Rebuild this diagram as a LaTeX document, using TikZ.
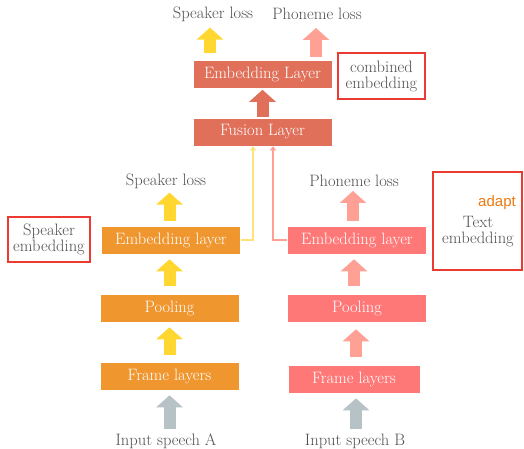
\documentclass[tikz,border=0pt]{standalone}
\usepackage{fontspec}
\newfontfamily\labelsans{Liberation Sans}
\usetikzlibrary{arrows.meta}
\definecolor{orangebox}{HTML}{EF962F}
\definecolor{pinkbox}{HTML}{FF7878}
\definecolor{fusered}{HTML}{E0705A}
\definecolor{yel}{HTML}{FFD730}
\definecolor{salmon}{HTML}{FFA095}
\definecolor{slate}{HTML}{B6C2C6}
\definecolor{txt}{HTML}{505050}
\definecolor{note}{HTML}{EA3A32}
\definecolor{adaptc}{HTML}{F07A12}
\definecolor{lightyel}{HTML}{FFE27A}
\begin{document}
\begin{tikzpicture}[x=1pt,y=-1pt,
  every node/.style={font=\fontsize{16.5}{19}\selectfont, text=txt},
  layer/.style={fill=#1, draw=white, line width=0.6pt, minimum width=139pt, minimum height=28pt,
    inner sep=0pt, text=white},
  lbl/.style={inner sep=0pt},
  notebox/.style={draw=note, line width=1.4pt, fill=white, inner sep=0pt, align=center},
  fat/.style={draw=#1, line width=12pt, -{Triangle[width=26pt,length=12pt,fill=#1]}},
  link/.style={draw=#1, line width=2.8pt, -{Triangle[width=6pt,length=4pt,fill=#1]}}]
\useasboundingbox (0,0) rectangle (524,449);

% top stage
\node[layer=fusered] (embT) at (262.5,74.5) {Embedding Layer};
\node[layer=fusered] (fusion) at (262.5,132) {Fusion Layer};
\node[lbl] (lossT1) at (213,14) {Speaker loss};
\node[lbl] (lossT2) at (317,14) {Phoneme loss};
\node[notebox, minimum width=87pt, minimum height=46pt] (comb) at (381.5,76) {combined\\[-3pt]embedding};

% speaker branch
\node[layer=orangebox] (embA) at (171,240) {Embedding layer};
\node[layer=orangebox] (poolA) at (169.5,308) {Pooling};
\node[layer=orangebox] (frameA) at (169.5,376) {Frame layers};
\node[lbl] (lossA) at (166,181) {Speaker loss};
\node[lbl] (inA) at (166,441) {Input speech A};
\node[notebox, minimum width=82pt, minimum height=45pt] (spk) at (49,239.5) {Speaker\\[-3pt]embedding};

% phoneme branch
\node[layer=pinkbox] (embB) at (357,240) {Embedding layer};
\node[layer=pinkbox] (poolB) at (357,308) {Pooling};
\node[layer=pinkbox, minimum width=132pt] (frameB) at (354,379) {Frame layers};
\node[lbl] (lossB) at (354,181) {Phoneme loss};
\node[lbl] (inB) at (355,441) {Input speech B};
\node[notebox, minimum width=89pt, minimum height=98pt] (txtemb) at (477.5,221) {};
\node[lbl, font=\labelsans\fontsize{15}{18}\selectfont, text=adaptc] (adapt) at (497,203) {adapt};
\node[lbl, align=center] (txtlbl) at (478,232) {Text\\[-3pt]embedding};

% block arrows
\draw[fat=fusered, shorten <=1pt, shorten >=1pt] (fusion.north) -- (embT.south);
\draw[fat=yel, shorten <=7pt, shorten >=6pt] (embT.north -| 210,0) -- (lossT1.south -| 210,0);
\draw[fat=salmon, shorten <=3pt, shorten >=8pt] (embT.north -| 316,0) -- (lossT2.south -| 316,0);

\draw[fat=yel, shorten <=5pt, shorten >=4pt] (embA.north -| frameA.north) -- (lossA.south -| frameA.north);
\draw[fat=yel, shorten <=8pt, shorten >=5pt] (poolA.north) -- (embA.south -| poolA.north);
\draw[fat=yel, shorten <=7pt, shorten >=5pt] (frameA.north) -- (poolA.south);
\draw[fat=slate, shorten <=4pt, shorten >=5pt] (inA.north -| frameA.south) -- (frameA.south);

\draw[fat=salmon, shorten <=5pt, shorten >=4pt] (embB.north -| 353,0) -- (lossB.south -| 353,0);
\draw[fat=salmon, shorten <=8pt, shorten >=5pt] (poolB.north -| 354,0) -- (embB.south -| 354,0);
\draw[fat=salmon, shorten <=8pt, shorten >=7pt] (frameB.north -| 356,0) -- (poolB.south -| 356,0);
\draw[fat=slate, shorten <=4pt, shorten >=5pt] (inB.north -| 356,0) -- (frameB.south -| 356,0);

% embedding links into fusion
\draw[link=lightyel] (embA.east) -| (fusion.south -| 253,0);
\draw[link=salmon] (embB.west) -| (fusion.south -| 273,0);
\end{tikzpicture}
\end{document}
